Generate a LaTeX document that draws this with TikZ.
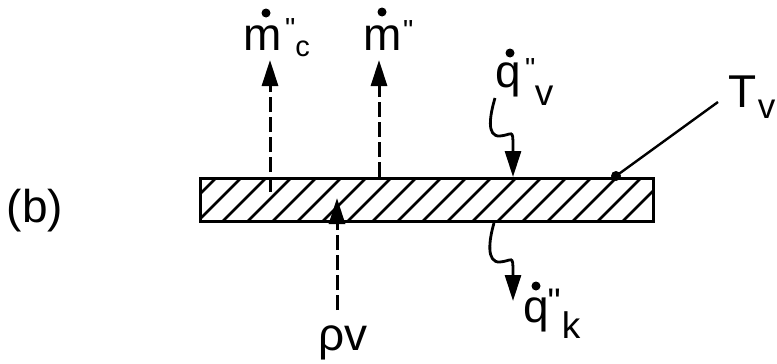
\documentclass[tikz,border=0pt]{standalone}
\usepackage{fontspec}
\setmainfont{Liberation Sans}[Ligatures=TeXOff]
\usetikzlibrary{arrows.meta}
\newcommand{\fsm}{\fontsize{29}{32}\selectfont}
\newcommand{\fsub}{\fontsize{37}{40}\selectfont}
\begin{document}
\begin{tikzpicture}[x=1pt,y=-1pt,
  lab/.style={inner sep=0pt, anchor=base west, text=black, font=\fontsize{46}{50}\selectfont},
  dotacc/.style={circle, fill=black, inner sep=0pt, minimum size=9pt},
  flow/.style={line width=3pt, dash pattern=on 15pt off 5pt, -{Triangle[length=26pt,width=16pt]}},
  heat/.style={line width=2.8pt, -{Triangle[length=26pt,width=16pt]}},
  hatch/.style={line width=2.8pt},
  ]
\useasboundingbox (0,0) rectangle (777,364);

% slab
\node[inner sep=0pt, minimum width=452pt, minimum height=42pt] (slab) at (427,200) {};
\begin{scope}
  \clip (slab.north west) rectangle (slab.south east);
  \foreach \k in {-1,...,18}
    \draw[hatch] ({215+25*\k-42},221) -- ({215+25*\k},179);
\end{scope}
\draw[line width=3.3pt] (slab.north west) rectangle (slab.south east);

% label (b)
\node[lab,anchor=base] (blab) at (35,222) {(b)};

% m-dot'' c
\node[lab] (mc) at (243.3,50)
  {m\hspace{3.3pt}\raisebox{12pt}{\fsm\char34}\raisebox{-6pt}{\fsm c}};
\node[dotacc] (mcdot) at (266,13) {};

% m-dot''
\node[lab] (m) at (363.3,50) {m\hspace{1.3pt}\raisebox{10pt}{\fsm\char34}};
\node[dotacc] (mdot) at (382,12) {};

% q-dot'' v
\node[lab] (qv) at (495.7,87)
  {q\hspace{3.7pt}\raisebox{9pt}{\fsm\char34}\hspace{-0.5pt}\raisebox{-18pt}{\fsub v}};
\node[dotacc] (qvdot) at (510,53) {};

% q-dot'' k
\node[lab] (qk) at (523.2,322)
  {q\hspace{-1.3pt}\raisebox{8pt}{\fsub\char34}\hspace{1.1pt}\raisebox{-16pt}{\fsub k}};
\node[dotacc] (qkdot) at (536,286) {};

% rho v
\node[lab,anchor=base] (rv) at (343,350) {ρv};

% T v
\node[lab] (T) at (728.4,107)
  {T\hspace{1.2pt}\raisebox{-11pt}{\fontsize{35}{38}\selectfont v}};

% mass flux arrows
\coordinate (a1s) at (270,192);
\coordinate (a1e) at (270,60);
\draw[flow] (a1s) -- (a1e);
\coordinate (a2s) at (379,177);
\coordinate (a2e) at (379,60);
\draw[flow] (a2s) -- (a2e);
\coordinate (a3s) at (337,310);
\coordinate (a3e) at (337,198);
\draw[flow] (a3s) -- (a3e);

% heat flux wavy arrows
\coordinate (w1s) at (495,98);
\coordinate (w1e) at (513,177);
\draw[heat] (w1s) .. controls (490,115) and (486,137) .. (500,136)
  .. controls (512,135) and (513,128) .. (513,146) -- (w1e);
\coordinate (w2s) at (494,223);
\coordinate (w2e) at (513,301);
\draw[heat] (w2s) .. controls (489,240) and (486,263) .. (500,262)
  .. controls (512,261) and (513,254) .. (513,272) -- (w2e);

% T_v leader
\node[circle, fill=black, inner sep=0pt, minimum size=10pt] (tvdot) at (616,176) {};
\coordinate (tvend) at (718,102);
\draw[line width=2.4pt] (tvdot.center) -- (tvend);
\end{tikzpicture}
\end{document}
